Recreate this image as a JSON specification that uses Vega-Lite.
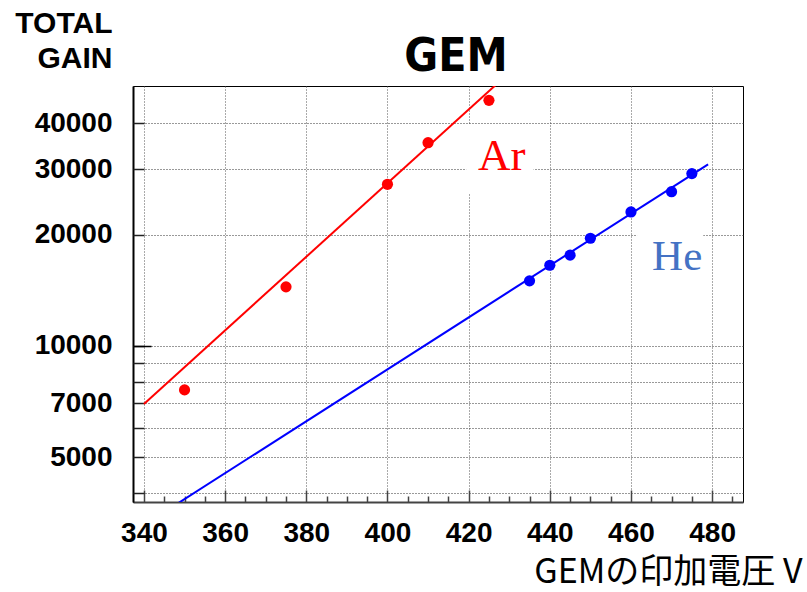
{
  "$schema": "https://vega.github.io/schema/vega-lite/v6.json",
  "width": 610,
  "height": 416,
  "autosize": {"type": "none"},
  "padding": {"left": 133, "top": 86, "right": 64, "bottom": 90},
  "background": "white",
  "title": {
    "text": "GEM",
    "font": "DejaVu Sans Condensed, Liberation Sans Narrow, Liberation Sans, sans-serif",
    "fontWeight": "bold",
    "fontSize": 46,
    "color": "#000",
    "anchor": "middle",
    "baseline": "alphabetic",
    "dx": 18,
    "dy": 56,
    "offset": -53
  },
  "config": {
    "view": {"stroke": "#000", "strokeWidth": 1},
    "axis": {
      "labelFont": "Liberation Sans",
      "labelFontWeight": "bold",
      "labelFontSize": 28,
      "labelColor": "#000",
      "titleColor": "#000",
      "labelFlush": false,
      "labelOverlap": false,
      "zindex": 0
    }
  },
  "datasets": {
    "ar": [
      {"v": 350, "gain": 7600},
      {"v": 375, "gain": 14440},
      {"v": 400, "gain": 27350},
      {"v": 410, "gain": 35440},
      {"v": 425, "gain": 46140}
    ],
    "he": [
      {"v": 435, "gain": 14990},
      {"v": 440, "gain": 16520},
      {"v": 445, "gain": 17590},
      {"v": 450, "gain": 19540},
      {"v": 460, "gain": 23020},
      {"v": 470, "gain": 26120},
      {"v": 475, "gain": 29230}
    ],
    "fits": [
      {"gas": "Ar", "v": 340, "gain": 6960},
      {"gas": "Ar", "v": 430, "gain": 54800},
      {"gas": "He", "v": 345, "gain": 3550},
      {"gas": "He", "v": 479, "gain": 30970}
    ],
    "boxes": [
      {"v1": 419.4, "v2": 436, "g1": 25900, "g2": 39800},
      {"v1": 461.5, "v2": 477.8, "g1": 14610, "g2": 20830}
    ]
  },
  "resolve": {"axis": {"x": "independent", "y": "independent"}},
  "layer": [
    {
      "data": {"name": "boxes"},
      "mark": {"type": "rect", "fill": "white", "stroke": null},
      "encoding": {
        "x": {
          "field": "v1", "type": "quantitative",
          "scale": {"domain": [337.3, 487.6], "zero": false, "nice": false},
          "axis": {
            "orient": "bottom",
            "values": [340, 360, 380, 400, 420, 440, 460, 480],
            "ticks": false,
            "grid": false,
            "domain": true,
            "domainColor": "#444",
            "domainWidth": 2,
            "labelPadding": 17,
            "title": "GEMの印加電圧 V",
            "titleFont": "Noto Sans CJK JP",
            "titleFontSize": 34,
            "titleFontWeight": "normal",
            "titleAlign": "right",
            "titleBaseline": "alphabetic",
            "titleX": 669,
            "titleY": 80
          }
        },
        "x2": {"field": "v2"},
        "y": {
          "field": "g1", "type": "quantitative",
          "scale": {"type": "log", "domain": [3780, 50450], "nice": false},
          "axis": {
            "orient": "left",
            "values": [5000, 7000, 10000, 20000, 30000, 40000],
            "format": "d",
            "ticks": false,
            "grid": false,
            "domain": true,
            "domainColor": "#000",
            "domainWidth": 2,
            "labelPadding": 21,
            "title": ["TOTAL", "GAIN"],
            "titleFont": "Liberation Sans",
            "titleFontSize": 30,
            "titleFontWeight": "bold",
            "titleAngle": 0,
            "titleAlign": "right",
            "titleBaseline": "alphabetic",
            "titleX": -21,
            "titleY": -54,
            "titleLineHeight": 35
          }
        },
        "y2": {"field": "g2"}
      }
    },
    {
      "data": {"name": "fits"},
      "mark": {"type": "line", "strokeWidth": 2, "clip": true},
      "encoding": {
        "x": {
          "field": "v", "type": "quantitative",
          "scale": {"domain": [337.3, 487.6], "zero": false, "nice": false},
          "axis": {
            "orient": "bottom",
            "values": [340, 360, 380, 400, 420, 440, 460, 480],
            "labels": false,
            "domain": false,
            "title": null,
            "grid": true,
            "gridColor": "#555",
            "gridDash": [1, 2],
            "gridWidth": 1,
            "ticks": true,
            "tickSize": -12,
            "tickColor": "#444",
            "tickWidth": 1.5
          }
        },
        "y": {
          "field": "gain", "type": "quantitative",
          "scale": {"type": "log", "domain": [3780, 50450], "nice": false},
          "axis": {
            "orient": "left",
            "values": [4000, 5000, 6000, 7000, 8000, 9000, 10000, 20000, 30000, 40000],
            "labels": false,
            "domain": false,
            "title": null,
            "grid": true,
            "gridColor": "#333",
            "gridDash": [1, 2],
            "gridWidth": 1,
            "ticks": true,
            "tickSize": -11,
            "tickColor": "#222",
            "tickWidth": 1.5
          }
        },
        "color": {
          "field": "gas", "type": "nominal",
          "scale": {"domain": ["Ar", "He"], "range": ["#ff0000", "#0000ff"]},
          "legend": null
        },
        "detail": {"field": "gas"}
      }
    },
    {
      "data": {"name": "ar"},
      "mark": {"type": "circle", "size": 125, "opacity": 1, "color": "#ff0000"},
      "encoding": {
        "x": {
          "field": "v", "type": "quantitative",
          "scale": {"domain": [337.3, 487.6], "zero": false, "nice": false},
          "axis": {
            "orient": "bottom",
            "values": [345, 350, 355, 365, 370, 375, 385, 390, 395, 405, 410, 415, 425, 430, 435, 445, 450, 455, 465, 470, 475, 485],
            "labels": false,
            "domain": false,
            "title": null,
            "grid": false,
            "ticks": true,
            "tickSize": -6,
            "tickColor": "#444",
            "tickWidth": 1.5
          }
        },
        "y": {
          "field": "gain", "type": "quantitative",
          "scale": {"type": "log", "domain": [3780, 50450], "nice": false},
          "axis": {
            "orient": "left",
            "values": [10000],
            "labels": false,
            "domain": false,
            "title": null,
            "grid": false,
            "ticks": true,
            "tickSize": -18,
            "tickColor": "#000",
            "tickWidth": 1.5
          }
        }
      }
    },
    {
      "data": {"name": "he"},
      "mark": {"type": "circle", "size": 125, "opacity": 1, "color": "#0000ff"},
      "encoding": {
        "x": {"field": "v", "type": "quantitative", "scale": {"domain": [337.3, 487.6], "zero": false, "nice": false}, "axis": null},
        "y": {"field": "gain", "type": "quantitative", "scale": {"type": "log", "domain": [3780, 50450], "nice": false}, "axis": null}
      }
    },
    {
      "data": {"values": [{"gas": "Ar", "v": 422.3, "gain": 29900}]},
      "mark": {"type": "text", "font": "Liberation Serif", "fontSize": 45, "align": "left", "baseline": "alphabetic", "color": "#ff0000"},
      "encoding": {
        "x": {"field": "v", "type": "quantitative", "scale": {"domain": [337.3, 487.6], "zero": false, "nice": false}, "axis": null},
        "y": {"field": "gain", "type": "quantitative", "scale": {"type": "log", "domain": [3780, 50450], "nice": false}, "axis": null},
        "text": {"field": "gas"}
      }
    },
    {
      "data": {"values": [{"gas": "He", "v": 465.2, "gain": 16030}]},
      "mark": {"type": "text", "font": "Liberation Serif", "fontSize": 43, "align": "left", "baseline": "alphabetic", "color": "#4472c4"},
      "encoding": {
        "x": {"field": "v", "type": "quantitative", "scale": {"domain": [337.3, 487.6], "zero": false, "nice": false}, "axis": null},
        "y": {"field": "gain", "type": "quantitative", "scale": {"type": "log", "domain": [3780, 50450], "nice": false}, "axis": null},
        "text": {"field": "gas"}
      }
    }
  ]
}
